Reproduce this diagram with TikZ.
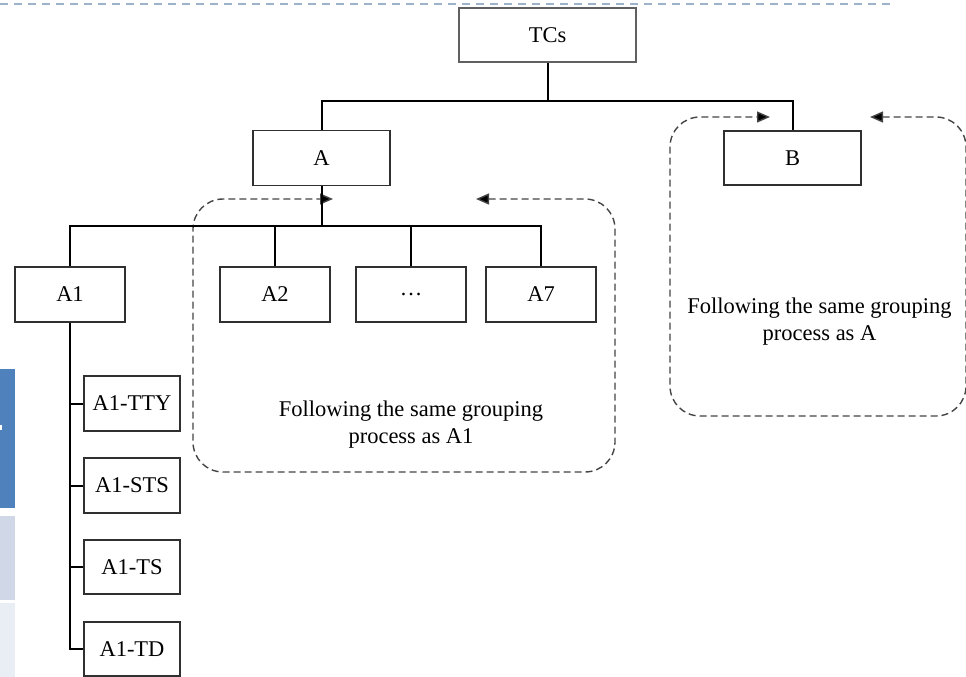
\documentclass[tikz,border=0pt]{standalone}
\usepackage{fontspec}
\setmainfont{Liberation Serif}
\usetikzlibrary{arrows.meta}
\definecolor{topdash}{HTML}{9BB2C8}
\definecolor{bluea}{HTML}{4F81BD}
\definecolor{blueb}{HTML}{D0D8E8}
\definecolor{bluec}{HTML}{E9EDF4}
\definecolor{boxline}{HTML}{303030}
\definecolor{dashline}{HTML}{444444}
\tikzset{
  box/.style={draw=boxline, line width=1.5pt, fill=white, inner sep=0pt,
    minimum width=110pt, minimum height=55pt,
    font=\fontsize{22.5}{26}\selectfont},
  conn/.style={line width=2pt, black},
  tip/.style={Triangle[length=13pt,width=11pt,fill=black,line width=0.5pt]},
  grp/.style={draw=dashline, line width=1.4pt, dash pattern=on 7pt off 4pt,
    rounded corners=30pt, {Triangle[length=13pt,width=11pt,fill=black]}-{Triangle[length=13pt,width=11pt,fill=black]}},
  note/.style={align=center, font=\fontsize{22.5}{27}\selectfont, inner sep=0pt}
}
\begin{document}
\begin{tikzpicture}[x=1pt,y=-1pt]
\useasboundingbox (0,0) rectangle (966,677);
% side bars
\fill[bluea] (0,369) rectangle (15,508);
\fill[white] (0,425) rectangle (2,430);
\fill[blueb] (0,516) rectangle (15,600);
\fill[bluec] (0,603) rectangle (15,677);
% top dashed line
\draw[topdash, line width=2pt, dash pattern=on 8pt off 6pt] (0,4) -- (895,4);

% group regions
\draw[grp] (476,199) -- (615,199) -- (615,472) -- (193,472) -- (193,199) -- (333,199);
\draw[grp] (870,117) -- (966,117) -- (966,416) -- (670,416) -- (670,117) -- (770,117);

% nodes
\node[box, draw=gray!75!black, line width=2pt, minimum width=177pt, minimum height=54pt] (TCs) at (547.5,35) {TCs};
\node[box, minimum width=137pt] (A) at (321.5,158) {A};
\node[box, minimum width=137pt, minimum height=54pt] (B) at (792.5,158) {B};
\node[box] (A1) at (70,294.5) {A1};
\node[box] (A2) at (275,294.5) {A2};
\node[box] (Ad) at (411,294.5) {…};
\node[box] (A7) at (541,294.5) {A7};
\node[box, minimum width=96pt] (TTY) at (132,403.5) {A1-TTY};
\node[box, minimum width=96pt] (STS) at (132,485.5) {A1-STS};
\node[box, minimum width=96pt, minimum height=54pt] (TS) at (132,567) {A1-TS};
\node[box, minimum width=96pt, minimum height=54pt] (TD) at (132,649) {A1-TD};

\node[note] (nA) at (411,425) {Following the same grouping\\process as A1};
\node[note] (nB) at (819.5,322) {Following the same grouping\\process as A};

% connectors
\coordinate (j1) at (547.5,101);
\coordinate (j2) at (321.5,226);
\draw[conn] (TCs.south) -- (j1);
\draw[conn] (A.north) |- (j1) -| (B.north);
\draw[conn] (A.south) -- (j2);
\draw[conn] (A1.north) |- (j2) -| (A7.north);
\draw[conn] (A2.north) -- (A2.north |- j2);
\draw[conn] (Ad.north) -- (Ad.north |- j2);
\draw[conn] (A1.south) |- (TD.west);
\draw[conn] (TTY.west) -- (TTY.west -| A1.south);
\draw[conn] (STS.west) -- (STS.west -| A1.south);
\draw[conn] (TS.west) -- (TS.west -| A1.south);
\end{tikzpicture}
\end{document}
